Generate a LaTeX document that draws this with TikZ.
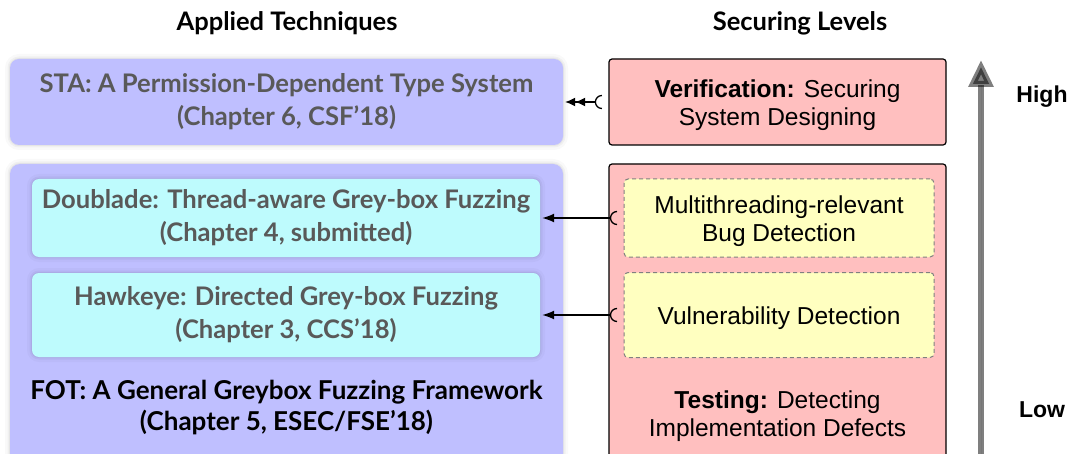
\documentclass[tikz,border=0pt]{standalone}
\usepackage{fontspec}
\setmainfont{Liberation Sans}
\newfontfamily\avfont{Lato}
\usetikzlibrary{arrows.meta}
\definecolor{lav}{HTML}{BFBFFF}
\definecolor{cyn}{HTML}{BEFBFD}
\definecolor{pnk}{HTML}{FFBFBF}
\definecolor{ylw}{HTML}{FFFFC0}
\definecolor{txtgray}{HTML}{595959}
\definecolor{dashgray}{HTML}{808080}
\begin{document}
\begin{tikzpicture}[x=1pt,y=1pt,
  softshadow/.style={preaction={draw=black,draw opacity=0.025,line width=10pt},
                     preaction={draw=black,draw opacity=0.035,line width=5pt},
                     preaction={draw=black,draw opacity=0.045,line width=2pt}},
  lbox/.style={rectangle, rounded corners=9pt, fill=lav, draw=none, softshadow},
  cbox/.style={rectangle, rounded corners=7pt, fill=cyn, draw=none, softshadow, text=txtgray,
    font=\avfont\bfseries\fontsize{25.6}{33}\selectfont, align=center, inner sep=0pt},
  ltext/.style={font=\avfont\bfseries\fontsize{25.6}{33}\selectfont, align=center, inner sep=0pt},
  ftext/.style={font=\avfont\bfseries\fontsize{26}{31}\selectfont, align=center, inner sep=0pt},
  rbox/.style={rectangle, rounded corners=3pt, fill=pnk, draw=black, line width=1.2pt},
  ybox/.style={rectangle, rounded corners=4pt, fill=ylw, draw=dashgray, line width=1pt,
    dash pattern=on 4pt off 3pt},
  rtext/.style={font=\fontsize{24.5}{28.5}\selectfont, align=center, inner sep=0pt},
  title/.style={font=\avfont\bfseries\fontsize{25.5}{30}\selectfont},
  level/.style={font=\bfseries\fontsize{23}{26}\selectfont},
  conn/.style={draw=black, line width=1.3pt},
  single/.style={conn, -{Latex[length=12pt,width=9pt]}, shorten >=2pt},
  double/.style={conn, -{Latex[length=10pt,width=9pt]Latex[length=10pt,width=9pt]}, shorten >=2pt}
]
\useasboundingbox (0,0) rectangle (1075,453);
\clip (0,0) rectangle (1075,453);
\fill[white] (0,0) rectangle (1075,453);

% titles
\node[title] (t1) at (287,430) {Applied Techniques};
\node[title] (t2) at (800,430) {Securing Levels};

% left column
\node[lbox, minimum width=553pt, minimum height=86pt, text=txtgray, ltext] (sta) at (286.5,351)
  {STA: A Permission-Dependent Type System\\(Chapter 6, CSF’18)};
\node[lbox, rounded corners=10pt, minimum width=553pt, minimum height=309pt] (fot) at (286.5,134.5) {};
\node[cbox, minimum width=508pt, minimum height=78pt] (dbl) at (286,235)
  {Doublade: Thread-aware Grey-box Fuzzing\\(Chapter 4, submitted)};
\node[cbox, minimum width=508pt, minimum height=84pt] (hawk) at (286,138)
  {Hawkeye: Directed Grey-box Fuzzing\\(Chapter 3, CCS’18)};
\node[ftext, text=black] (fotlabel) at (286.5,45)
  {FOT: A General Greybox Fuzzing Framework\\(Chapter 5, ESEC/FSE’18)};

% right column
\node[rbox, minimum width=337pt, minimum height=86pt] (ver) at (777.5,351) {};
\node[rtext] (verlabel) at (777.5,348) {\textbf{Verification:} Securing\\System Designing};
\node[rbox, minimum width=337pt, minimum height=309pt] (test) at (777.5,134.5) {};
\node[rtext] (testlabel) at (777.5,37) {\textbf{Testing:} Detecting\\Implementation Defects};
\node[ybox, minimum width=310pt, minimum height=78pt] (mt) at (779,235) {};
\node[rtext] (mtlabel) at (779,232) {Multithreading-relevant\\Bug Detection};
\node[ybox, minimum width=310pt, minimum height=85pt] (vul) at (779,138) {};
\node[rtext] (vullabel) at (779,135) {Vulnerability Detection};

% connectors
\draw[double] ([xshift=-13pt]ver.west) -- (sta.east);
\draw[conn] ([xshift=-6.5pt,yshift=6.5pt]ver.west) arc[start angle=90,end angle=270,radius=6.5pt];
\draw[single] ([xshift=-13pt]mt.west) -- (dbl.east);
\draw[conn] ([xshift=-6.5pt,yshift=6.5pt]mt.west) arc[start angle=90,end angle=270,radius=6.5pt];
\draw[single] ([xshift=-13pt]vul.west) -- (hawk.east);
\draw[conn] ([xshift=-6.5pt,yshift=6.5pt]vul.west) arc[start angle=90,end angle=270,radius=6.5pt];

% level arrow
\coordinate (lvbot) at (981,-5);
\coordinate (lvtop) at (981,393);
\draw[line width=6pt, draw=black, fill=black, opacity=0.5, -{Triangle[width=24pt,length=27pt]}] (lvbot) -- (lvtop);
\node[level] (high) at (1042,356) {High};
\node[level] (low) at (1042,43) {Low};
\end{tikzpicture}
\end{document}
